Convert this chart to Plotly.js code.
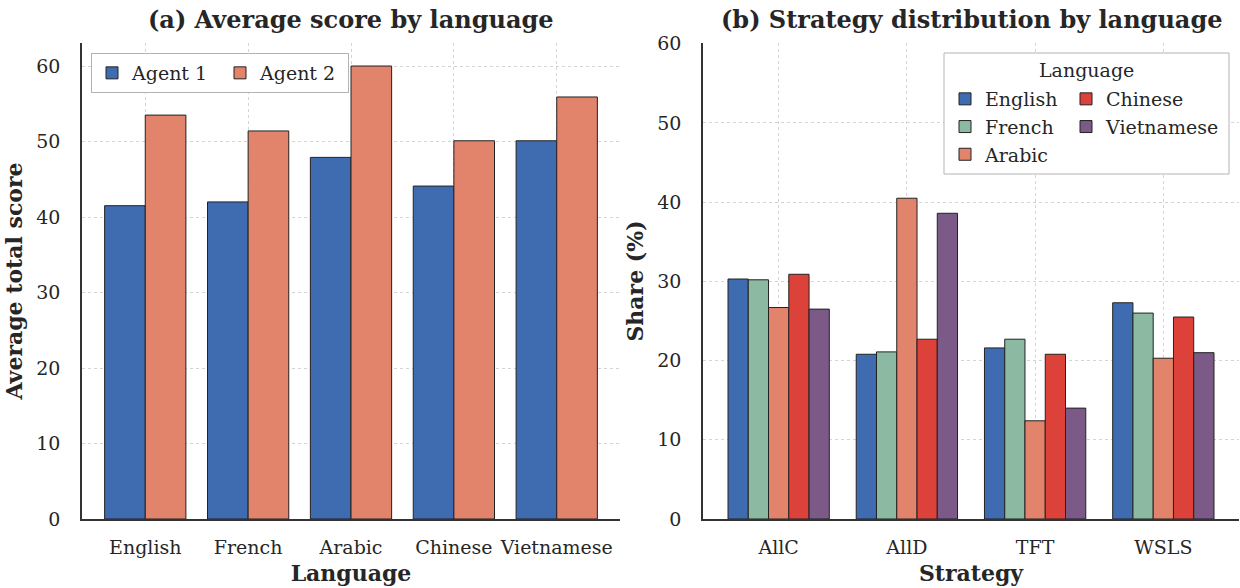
<!DOCTYPE html>
<html>
<head>
<meta charset="utf-8">
<script src="https://cdn.plot.ly/plotly-3.0.1.min.js"></script>
<style>
  html, body { margin: 0; padding: 0; background: #ffffff; }
  #chart { width: 1240px; height: 588px; }
</style>
</head>
<body>
<div id="chart"></div>
<script>
// Panel (a): average total score per language for each agent
const languages = ["English", "French", "Arabic", "Chinese", "Vietnamese"];
const agent1Scores = [41.5, 42.0, 47.9, 44.1, 50.1];
const agent2Scores = [53.5, 51.4, 60.0, 50.1, 55.9];

// Panel (b): share of each strategy (%) by language
const strategies = ["AllC", "AllD", "TFT", "WSLS"];
const shareEnglish = [30.3, 20.8, 21.6, 27.3];
const shareFrench = [30.2, 21.1, 22.7, 26.0];
const shareArabic = [26.7, 40.5, 12.4, 20.3];
const shareChinese = [30.9, 22.7, 20.8, 25.5];
const shareVietnamese = [26.5, 38.6, 14.0, 21.0];

const FONT = "DejaVu Serif, Liberation Serif, serif";
const INK = "#262626";
const EDGE = "#222222";
const GRID = "#d4d4d4";

const agentColors = ["#3f6cb0", "#e2836c"];
const langColors = {
  English: "#3f6cb0",
  French: "#8cb9a1",
  Arabic: "#e2836c",
  Chinese: "#dc423a",
  Vietnamese: "#7b5a87"
};

function barTrace(name, x, y, color, xaxis, yaxis, legend) {
  return {
    type: "bar",
    name: name,
    x: x,
    y: y,
    xaxis: xaxis,
    yaxis: yaxis,
    legend: legend,
    marker: { color: color, line: { color: EDGE, width: 1 } },
    hoverinfo: "x+y+name"
  };
}

const traces = [
  barTrace("Agent 1", languages, agent1Scores, agentColors[0], "x", "y", "legend"),
  barTrace("Agent 2", languages, agent2Scores, agentColors[1], "x", "y", "legend"),
  barTrace("English", strategies, shareEnglish, langColors.English, "x2", "y2", "legend2"),
  barTrace("French", strategies, shareFrench, langColors.French, "x2", "y2", "legend2"),
  barTrace("Arabic", strategies, shareArabic, langColors.Arabic, "x2", "y2", "legend2"),
  barTrace("Chinese", strategies, shareChinese, langColors.Chinese, "x2", "y2", "legend3"),
  barTrace("Vietnamese", strategies, shareVietnamese, langColors.Vietnamese, "x2", "y2", "legend3")
];

// plot area: left 82px, right 1px, top 43px, bottom 69px
const L = 82, T = 43, W = 1157, H = 476;
const px = v => (v - L) / W;
const py = v => (T + H - v) / H;

const titleFont = { family: FONT, size: 22, color: INK, weight: "bold" };

function catAxis(domain, range, titleText) {
  return {
    domain: domain,
    range: range,
    type: "category",
    showline: true,
    linecolor: "#333333",
    linewidth: 1.6,
    ticks: "",
    ticklabelstandoff: 10,
    tickfont: { family: FONT, size: 19, color: INK },
    showgrid: true,
    gridcolor: GRID,
    griddash: "dot",
    gridwidth: 1,
    zeroline: false,
    fixedrange: true,
    title: { text: titleText, font: titleFont, standoff: 9 }
  };
}

function valAxis(anchor, range, titleText) {
  return {
    anchor: anchor,
    range: range,
    dtick: 10,
    tick0: 0,
    showline: true,
    linecolor: "#333333",
    linewidth: 1.6,
    ticks: "",
    ticklabelstandoff: 16,
    tickfont: { family: FONT, size: 19, color: INK },
    showgrid: true,
    gridcolor: GRID,
    griddash: "dot",
    gridwidth: 1,
    zeroline: false,
    fixedrange: true,
    title: { text: titleText, font: titleFont, standoff: 8 }
  };
}

const legendFont = { family: FONT, size: 19, color: INK };

const layout = {
  width: 1240,
  height: 588,
  margin: { l: L, r: 1240 - L - W, t: T, b: 588 - T - H },
  paper_bgcolor: "#ffffff",
  plot_bgcolor: "#ffffff",
  barmode: "group",
  bargap: 0.21,
  font: { family: FONT, color: INK },
  showlegend: true,
  xaxis: Object.assign(catAxis([0, px(620)], [-0.615, 4.615], "Language"), { anchor: "y" }),
  yaxis: valAxis("x", [0, 63.05], "Average total score"),
  xaxis2: Object.assign(catAxis([px(703), 1], [-0.59, 3.59], "Strategy"), { anchor: "y2" }),
  yaxis2: valAxis("x2", [0, 60.1], "Share (%)"),
  legend: {
    orientation: "h",
    x: px(91), y: py(53), xanchor: "left", yanchor: "top",
    bgcolor: "#ffffff",
    bordercolor: "#b3b3b3",
    borderwidth: 1,
    entrywidth: 83,
    font: legendFont,
    itemclick: false, itemdoubleclick: false
  },
  legend2: {
    orientation: "v",
    x: px(945), y: py(80), xanchor: "left", yanchor: "top",
    bgcolor: "rgba(0,0,0,0)",
    borderwidth: 0,
    font: legendFont,
    itemclick: false, itemdoubleclick: false
  },
  legend3: {
    orientation: "v",
    x: px(1066), y: py(80), xanchor: "left", yanchor: "top",
    bgcolor: "rgba(0,0,0,0)",
    borderwidth: 0,
    font: legendFont,
    itemclick: false, itemdoubleclick: false
  },
  shapes: [
    {
      // frame shared by the two-column language legend
      type: "rect", xref: "paper", yref: "paper", layer: "above",
      x0: px(944), x1: px(1229), y0: py(174), y1: py(53),
      fillcolor: "#ffffff",
      line: { color: "#b3b3b3", width: 1 }
    }
  ],
  annotations: [
    {
      text: "<b>(a) Average score by language</b>",
      xref: "x domain", yref: "paper", x: 0.5, y: py(20),
      xanchor: "center", yanchor: "middle", showarrow: false,
      font: { family: FONT, size: 24, color: INK }
    },
    {
      text: "<b>(b) Strategy distribution by language</b>",
      xref: "x2 domain", yref: "paper", x: 0.5, y: py(20),
      xanchor: "center", yanchor: "middle", showarrow: false,
      font: { family: FONT, size: 24, color: INK }
    },
    {
      text: "Language",
      xref: "paper", yref: "paper", x: px(1086), y: py(70),
      xanchor: "center", yanchor: "middle", showarrow: false,
      font: legendFont
    }
  ]
};

Plotly.newPlot("chart", traces, layout, { displayModeBar: false });
</script>
</body>
</html>
